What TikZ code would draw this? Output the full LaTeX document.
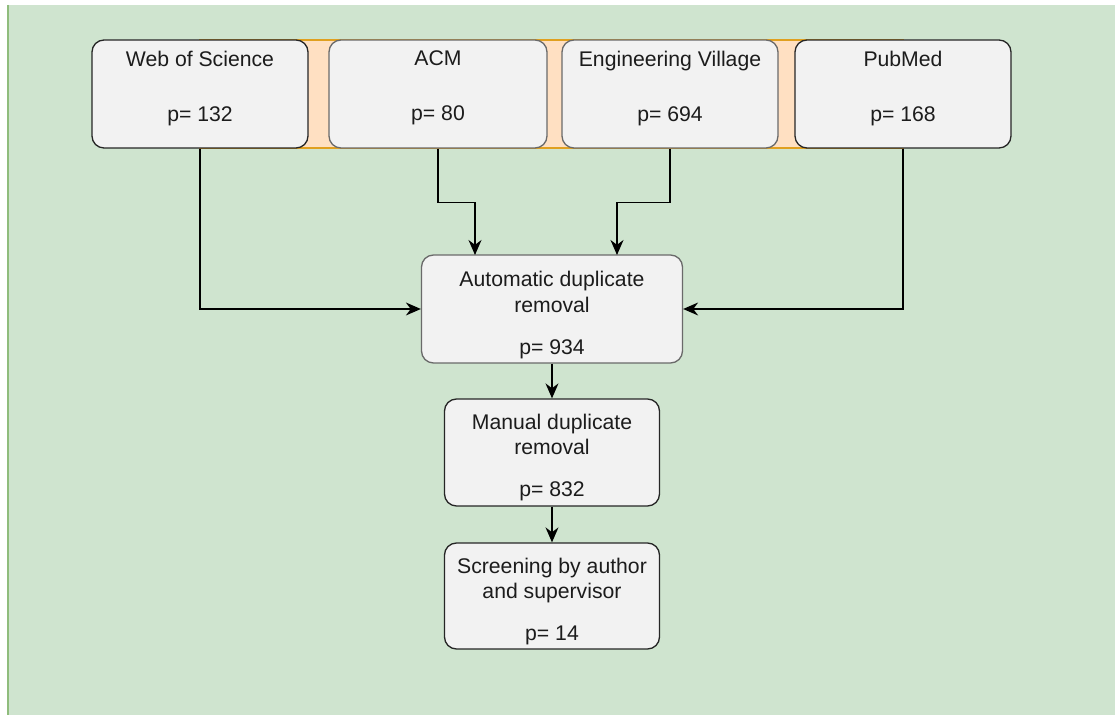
\documentclass[tikz,border=0pt]{standalone}
\usepackage{fontspec}
\setmainfont{Liberation Sans}
\usepackage{xcolor}
\usepackage{tikz}
\usetikzlibrary{positioning, arrows.meta, calc}
\definecolor{panelgreen}{HTML}{CFE4CF}
\definecolor{edgegreen}{HTML}{8FBC7C}
\definecolor{bandorange}{HTML}{FFE0C2}
\definecolor{edgeorange}{HTML}{E0A020}
\definecolor{boxgray}{HTML}{F2F2F2}
\definecolor{edgegray}{HTML}{6A6A6A}
\definecolor{edgedark}{HTML}{262626}
\definecolor{textdark}{HTML}{1C1C1C}

\begin{document}
\begin{tikzpicture}[x=0.5pt, y=-0.5pt,
    stage/.style={fill=boxgray, draw=edgedark, line width=0.65pt, rounded corners=6pt,
      align=center, text=textdark, inner sep=0pt,
      font=\fontsize{10.6}{12.75}\selectfont},
    source/.style={stage, minimum width=108pt, minimum height=54pt},
    flow/.style={-{Stealth[length=7.5pt, width=6.5pt]}, line width=0.65pt, draw=black}]

    % backdrop
    \useasboundingbox (0,0) rectangle (1115,715);
    \fill[white] (0,0) rectangle (1115,715);
    \fill[panelgreen] (8,5) rectangle (1115,715);
    \draw[edgegreen, line width=1.4pt] (8,5) -- (8,715);
    \draw[fill=bandorange, draw=edgeorange, line width=0.7pt] (200,40) rectangle (903,148);

    % databases
    \node[source] (wos) at (200,94) {Web of Science\\[14.75pt]p= 132\rule[-8pt]{0pt}{1pt}};
    \node[source, draw=edgegray, minimum width=109pt] (acm) at (438,94) {ACM\\[14.75pt]p= 80\rule[-8pt]{0pt}{1pt}};
    \node[source, draw=edgegray] (engvillage) at (670,94) {Engineering Village\\[14.75pt]p= 694\rule[-8pt]{0pt}{1pt}};
    \node[source] (pubmed) at (903,94) {PubMed\\[14.75pt]p= 168\rule[-8pt]{0pt}{1pt}};

    % filtering steps
    \node[stage, draw=edgegray, minimum width=130.5pt, minimum height=54pt] (autodup) at (552,309)
      {\rule{0pt}{13.7pt}Automatic duplicate\\removal\\[8.25pt]p= 934};
    \node[stage, minimum width=107.5pt, minimum height=53.5pt] (manualdup) at (552,452.5)
      {\rule{0pt}{12.7pt}Manual duplicate\\removal\\[8.25pt]p= 832};
    \node[stage, minimum width=107.5pt, minimum height=53pt] (screening) at (552,596)
      {\rule{0pt}{13.2pt}Screening by author\\and supervisor\\[8.25pt]p= 14};

    \coordinate (acmin) at (475,255);
    \coordinate (evin) at (617,255);

    \draw[flow] (wos.south) |- (autodup.west);
    \draw[flow] (pubmed.south) |- (autodup.east);
    \draw[flow] (acm.south) -- ++(0,54) -| (acmin);
    \draw[flow] (engvillage.south) -- ++(0,54) -| (evin);
    \draw[flow] (autodup) -- (manualdup);
    \draw[flow] (manualdup) -- (screening);
  \end{tikzpicture}
\end{document}
